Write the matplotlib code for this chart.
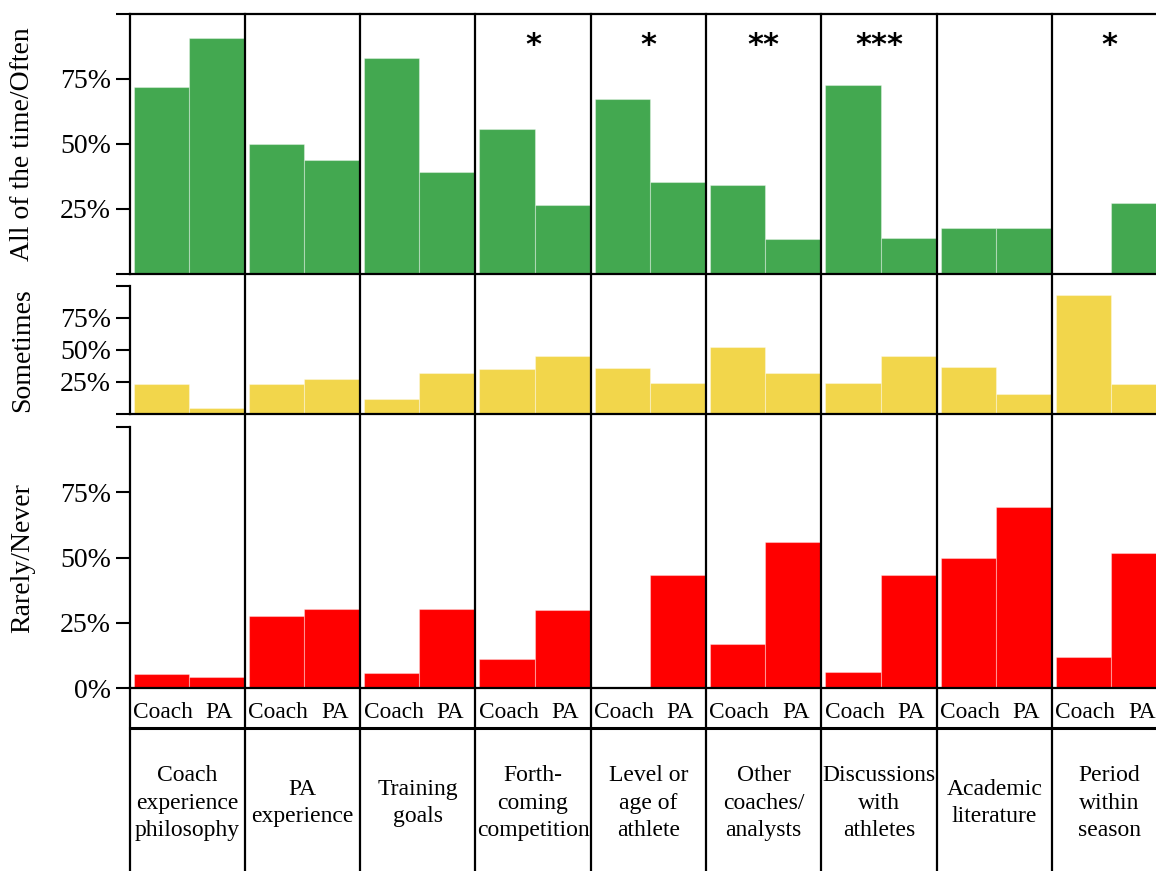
import matplotlib
matplotlib.use("Agg")
import matplotlib.pyplot as plt
from matplotlib.lines import Line2D
from matplotlib.transforms import blended_transform_factory
import numpy as np

# ---------------- data ----------------
categories = ["Coach\nexperience\nphilosophy", "PA\nexperience", "Training\ngoals",
              "Forth-\ncoming\ncompetition", "Level or\nage of\nathlete",
              "Other\ncoaches/\nanalysts", "Discussions\nwith\nathletes",
              "Academic\nliterature", "Period\nwithin\nseason"]
groups = ["Coach", "PA"]
often_coach = [72, 50, 83, 55.7, 67.4, 34.2, 72.5, 17.5, 0]
often_pa = [90.8, 43.7, 39, 26.4, 35.2, 13.4, 13.7, 17.5, 27.2]
sometimes_coach = [23, 23.5, 11.8, 34.9, 36.2, 52.5, 24, 37, 92.8]
sometimes_pa = [4.5, 27.4, 31.7, 45, 24, 32.3, 45.5, 15.4, 23.5]
rarely_coach = [5.4, 27.5, 5.7, 11.1, 0, 16.8, 6.1, 49.9, 11.8]
rarely_pa = [4.4, 30.3, 30.3, 30, 43.3, 56, 43.3, 69.2, 51.8]
significance = ["", "", "", "*", "*", "**", "***", "", "*"]
panel_labels = ["All of the time/Often", "Sometimes", "Rarely/Never"]
panel_colors = ["#43A850", "#F2D64B", "#FF0000"]
ytick_vals = [0, 25, 50, 75, 100]

plt.rcParams["font.family"] = ["Liberation Serif", "DejaVu Serif"]

W, H = 1156, 871
fig = plt.figure(figsize=(W / 100, H / 100), dpi=100)

left = 129.5 / W
right_lim = (W - 129.5) / 115.3
# (top_px, bottom_px) of each panel
panels_px = [(14, 273.5), (286, 413.8), (427, 688.3)]
axes = []
for (t, b) in panels_px:
    ax = fig.add_axes([left, 1 - b / H, 1 - left, (b - t) / H])
    axes.append(ax)

x = np.arange(len(categories))
data = [(often_coach, often_pa), (sometimes_coach, sometimes_pa), (rarely_coach, rarely_pa)]

for i, ax in enumerate(axes):
    c_vals, p_vals = data[i]
    col = panel_colors[i]
    ax.bar(x + 0.035, c_vals, width=0.48, align="edge", color=col,
           edgecolor=(1, 1, 1, 0.35), linewidth=0.8)
    ax.bar(x + 0.515, p_vals, width=0.48, align="edge", color=col,
           edgecolor=(1, 1, 1, 0.35), linewidth=0.8)
    ax.set_xlim(0, right_lim)
    ax.set_ylim(0, 100)
    ax.set_xticks([])
    ax.set_yticks(ytick_vals)
    if i < 2:
        labels = ["", "25%", "50%", "75%", ""]
    else:
        labels = ["0%", "25%", "50%", "75%", ""]
    ax.set_yticklabels(labels)
    ax.tick_params(axis="y", length=10, width=1.5, labelsize=20, pad=3.5)
    ax.spines["right"].set_visible(False)
    ax.spines["top"].set_visible(i == 0)
    for s in ["left", "bottom", "top"]:
        ax.spines[s].set_linewidth(1.6)
    ax.set_facecolor("none")
    fig.text(23 / W, 1 - (panels_px[i][0] + panels_px[i][1]) / 2 / H, panel_labels[i],
             rotation=90, ha="center", va="center", fontsize=20)

# significance markers
for xi, s in zip(x, significance):
    if s:
        axes[0].text(xi + 0.5, 87.7, s, ha="center", va="center", fontsize=22,
                     family="DejaVu Sans", fontweight="bold")

# grid lines across figure
trans = blended_transform_factory(axes[0].transData, fig.transFigure)
for i in range(1, len(categories)):
    fig.add_artist(Line2D([i, i], [0, 1 - 14 / H], transform=trans, color="black", lw=1.6))
fig.add_artist(Line2D([0, 0], [0, 1 - 688.3 / H], transform=trans, color="black", lw=1.6))
fig.add_artist(Line2D([0, right_lim], [1 - 728 / H] * 2, transform=trans, color="black", lw=2.2))

# Coach / PA labels and category labels
for xi, cat in zip(x, categories):
    fig.text(xi + 0.29, 1 - 712 / H, groups[0], transform=trans, ha="center", va="center", fontsize=16.8)
    fig.text(xi + 0.78, 1 - 712 / H, groups[1], transform=trans, ha="center", va="center", fontsize=16.8)
    fig.text(xi + 0.5, 1 - 803 / H, cat, transform=trans, ha="center", va="center",
             fontsize=17, linespacing=1.4, multialignment="center")

fig.savefig("out.png", dpi=100)
